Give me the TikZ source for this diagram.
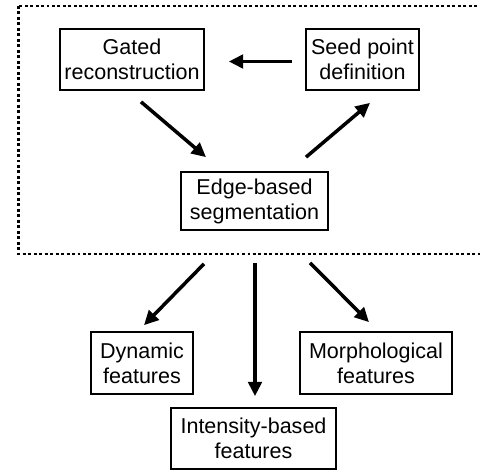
\documentclass[tikz,border=0pt]{standalone}
\usepackage{fontspec}
\setmainfont{Liberation Sans}
\usepackage{tikz}
\usetikzlibrary{positioning,arrows.meta}

\begin{document}
\begin{tikzpicture}[
    stepBox/.style={rectangle, draw=black, line width=1.2pt, align=center, inner sep=2pt, minimum height=1.525cm, font=\fontsize{15.3}{17.8}\selectfont},
    arrowStyle/.style={-{Triangle[length=0.36cm,width=0.34cm]}, line width=2.5pt, draw=black},
    frameStyle/.style={draw=black, line width=2.1pt, dash pattern=on 2.1pt off 1.8pt}
]
    \clip (0,0) rectangle (12,-11.775);
    \useasboundingbox (0,0) rectangle (12,-11.775);

    \draw[frameStyle] (0.4625,-0.15) rectangle (12.4,-6.35);

    \node[stepBox, minimum width=3.6cm] (gated) at (3.3, -1.4875) {Gated\\reconstruction};
    \node[stepBox, minimum width=2.825cm] (seed) at (9.0625, -1.4875) {Seed point\\definition};
    \node[stepBox, minimum width=3.675cm, minimum height=1.45cm] (edge) at (6.3625, -5.025) {Edge-based\\segmentation};

    \node[stepBox, minimum width=2.55cm, minimum height=1.55cm] (dynamic) at (3.55, -9.075) {Dynamic\\features};
    \node[stepBox, minimum width=3.8cm, minimum height=1.55cm] (morph) at (9.4, -9.075) {Morphological\\features};
    \node[stepBox, minimum width=4.125cm] (intensity) at (6.3375, -10.9625) {Intensity-based\\features};

    \draw[arrowStyle] ([shift={(-0.325,-0.05)}]seed.west) -- ([shift={(0.6,-0.05)}]gated.east);
    \draw[arrowStyle] ([shift={(0.225,-0.275)}]gated.south) -- ([shift={(-1.2125,0.35)}]edge.north);
    \draw[arrowStyle] ([shift={(1.2875,0.35)}]edge.north) -- ([shift={(0.1875,-0.3)}]seed.south);

    \draw[arrowStyle] ([shift={(-1.2625,-0.825)}]edge.south) -- ([shift={(0.05,0.15)}]dynamic.north);
    \draw[arrowStyle] ([shift={(0.0125,-0.8)}]edge.south) -- ([shift={(0.0375,0.275)}]intensity.north);
    \draw[arrowStyle] ([shift={(1.3875,-0.8)}]edge.south) -- ([shift={(-0.175,0.225)}]morph.north);
\end{tikzpicture}
\end{document}
